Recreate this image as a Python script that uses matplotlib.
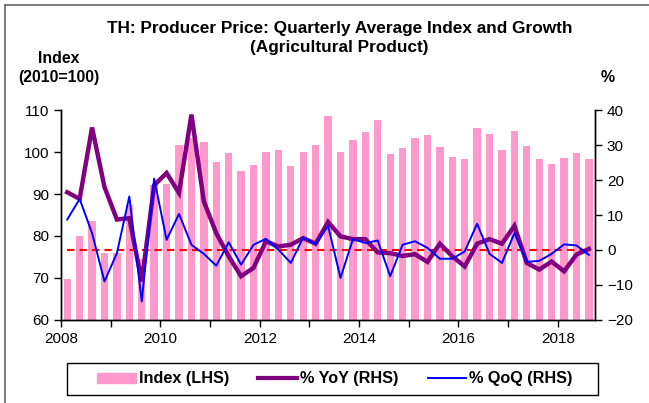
import numpy as np
import matplotlib.pyplot as plt
from matplotlib.lines import Line2D
from matplotlib.patches import Patch, Rectangle

plt.rcParams['font.family'] = ['Liberation Sans', 'DejaVu Sans']

# quarterly data, 2008Q1 - 2018Q3
index_lhs = [69.8, 80.1, 83.6, 76.0, 75.9, 87.4, 74.5, 92.1, 92.3, 101.7,
             103.4, 102.3, 97.6, 99.8, 95.5, 96.9, 100.1, 100.4, 96.6, 100.0,
             101.7, 108.6, 100.0, 102.9, 104.8, 107.6, 99.5, 100.9, 103.3, 104.0,
             101.3, 98.7, 98.3, 105.6, 104.4, 100.4, 105.0, 101.4, 98.3, 97.1,
             98.6, 99.8, 98.4]
yoy = [16.5, 14.6, 35.0, 18.0, 8.7, 9.1, -9.0, 18.5, 22.0, 16.3,
       38.7, 13.9, 4.8, -1.8, -7.5, -5.1, 2.5, 1.0, 1.5, 3.4,
       1.8, 8.0, 3.9, 3.1, 3.1, -0.7, -0.9, -1.7, -1.2, -3.4,
       1.8, -1.8, -4.7, 1.8, 3.1, 1.8, 6.9, -3.7, -5.6, -3.3,
       -6.1, -1.3, 0.3]
qoq = [8.7, 14.6, 4.8, -9.0, -0.9, 15.3, -14.7, 20.4, 2.9, 10.3,
       1.5, -1.1, -4.5, 2.2, -4.2, 1.5, 3.2, 0.1, -3.7, 3.6,
       1.7, 6.9, -8.0, 3.1, 2.0, 2.7, -7.5, 1.5, 2.5, 0.6,
       -2.5, -2.5, -0.4, 7.5, -1.1, -3.7, 4.8, -3.4, -3.1, -1.1,
       1.6, 1.3, -1.4]

x = 2008.125 + 0.25 * np.arange(len(index_lhs))

fig = plt.figure(figsize=(6.49, 4.03), dpi=100)
ax = fig.add_axes([0.094, 0.206, 0.823, 0.521])
ax2 = ax.twinx()

ax.bar(x, index_lhs, width=0.148, color='#FF99CC', zorder=1)
ax.set_ylim(60, 110)
ax.set_yticks(range(60, 111, 10))
ax.set_xlim(2008, 2018.75)
ax.set_xticks(range(2008, 2019))
ax.set_xticklabels([str(y) if y % 2 == 0 else '' for y in range(2008, 2019)])

ax2.plot(x, np.zeros(len(x)), color='#FF0000', lw=1.5, ls=(0, (3.5, 2.5)))
ax2.plot(x, yoy, color='#800080', lw=3.2, solid_joinstyle='miter')
ax2.plot(x, qoq, color='#0000FF', lw=1.4)
ax2.set_ylim(-20, 40)
ax2.set_yticks(range(-20, 41, 10))

for a in (ax, ax2):
    a.spines['top'].set_visible(False)
    for s in a.spines.values():
        s.set_linewidth(1)
    a.tick_params(labelsize=11, length=5, width=1, direction='out')
ax.tick_params(axis='x', pad=4)

fig.text(0.523, 0.918, 'TH: Producer Price: Quarterly Average Index and Growth',
         ha='center', va='baseline', fontsize=12.4, fontweight='bold')
fig.text(0.523, 0.871, '(Agricultural Product)',
         ha='center', va='baseline', fontsize=12.4, fontweight='bold')
fig.text(0.0905, 0.843, 'Index', ha='center', va='baseline', fontsize=11.4, fontweight='bold')
fig.text(0.0905, 0.797, '(2010=100)', ha='center', va='baseline', fontsize=11.4, fontweight='bold')
fig.text(0.937, 0.797, '%', ha='center', va='baseline', fontsize=11.4, fontweight='bold')

handles = [Patch(color='#FF99CC'),
           Line2D([], [], color='#800080', lw=3),
           Line2D([], [], color='#0000FF', lw=1.4)]
leg = fig.legend(handles, ['Index (LHS)', '% YoY (RHS)', '% QoQ (RHS)'],
                 loc='center', bbox_to_anchor=(0.516, 0.0596), ncol=3,
                 frameon=False, prop={'weight': 'bold', 'size': 11.7},
                 handlelength=2.37, handleheight=0.6, handletextpad=0.2,
                 columnspacing=1.8, borderpad=0, borderaxespad=0)
# legend box
fig.add_artist(Rectangle((67/649, 1 - 395/403), 531/649, 32/403, fill=False,
                         edgecolor='black', lw=1, transform=fig.transFigure))

# outer grey frame (left and top only)
fig.add_artist(Line2D([5/649, 5/649], [0, 1 - 5/403], color='#666666', lw=1.2,
                      transform=fig.transFigure))
fig.add_artist(Line2D([5/649, 1], [1 - 5/403, 1 - 5/403], color='#666666', lw=1.2,
                      transform=fig.transFigure))

fig.savefig('out.png', dpi=100)
